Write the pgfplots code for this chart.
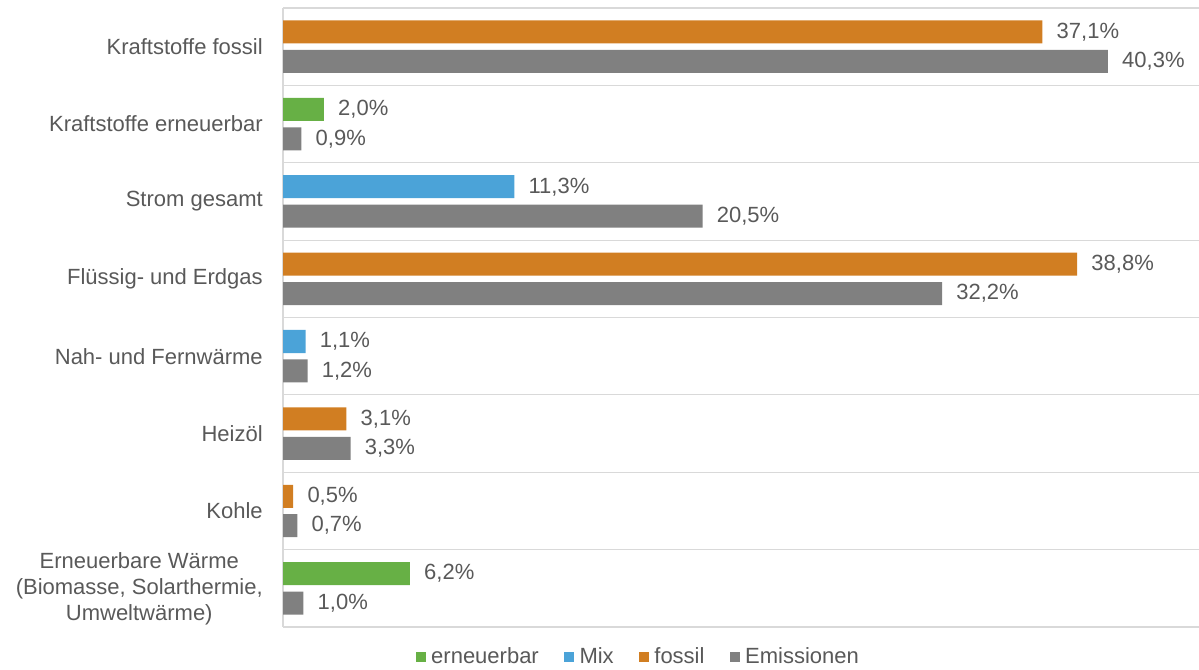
\documentclass[border=0pt]{standalone}
\usepackage{pgfplots}
\pgfplotsset{compat=1.18}
\usepackage{fontspec}
\setmainfont{Liberation Sans}
\definecolor{cgreen}{HTML}{67B045}
\definecolor{cblue}{HTML}{4BA3D8}
\definecolor{corange}{HTML}{D17E22}
\definecolor{cgray}{HTML}{808080}
\definecolor{ctext}{HTML}{595959}
\definecolor{cgrid}{HTML}{D9D9D9}
\newcommand{\lab}{\fontsize{16.5}{19.5}\selectfont}
\begin{document}
\begin{tikzpicture}
\useasboundingbox (0pt,0pt) rectangle (899.25pt,501.75pt);
\begin{axis}[
    at={(212.25pt,31.5pt)}, anchor=south west,
    scale only axis,
    width=687pt, height=464.25pt,
    xbar, bar width=17.25pt, bar shift=0pt,
    xmin=0, xmax=44.75,
    ymin=-0.5, ymax=7.5, y dir=reverse,
    axis x line=none,
    axis y line*=left,
    axis line style={draw=cgrid, line width=0.9pt},
    ytick={0,...,7},
    yticklabels={Kraftstoffe fossil, Kraftstoffe erneuerbar, Strom gesamt,
        Flüssig- und Erdgas, Nah- und Fernwärme, Heizöl, Kohle,
        {Erneuerbare Wärme\\(Biomasse, Solarthermie,\\Umweltwärme)}},
    yticklabel style={font=\lab, text=ctext, align=center, anchor=east, inner sep=0pt, xshift=-15pt},
    minor ytick={-0.5,0.5,...,7.5},
    yminorgrids, minor grid style={draw=cgrid, line width=0.9pt},
    major tick length=0pt, minor tick length=0pt,
    nodes near coords={\pgfmathprintnumber[fixed,fixed zerofill,precision=1,use comma,assume math mode=true]{\pgfplotspointmeta}\%},
    every node near coord/.append style={font=\lab, text=ctext, anchor=west, inner sep=0pt, xshift=10.5pt},
    legend columns=4,
    legend style={draw=none, font=\lab, text=ctext, at={(0.3898,-0.048)}, anchor=center,
        /tikz/every even column/.append style={column sep=15pt},
        /tikz/every odd column/.append style={column sep=0pt},
        nodes={inner sep=2pt, inner xsep=4pt}},
]
\addplot[draw=none, fill=cgreen, legend image code/.code={\fill[cgreen] (0pt,-3.75pt) rectangle (7.5pt,3.75pt);}]
    coordinates {(2.0,0.81) (6.2,6.81)};
\addlegendentry{erneuerbar}
\addplot[draw=none, fill=cblue, legend image code/.code={\fill[cblue] (0pt,-3.75pt) rectangle (7.5pt,3.75pt);}]
    coordinates {(11.3,1.81) (1.1,3.81)};
\addlegendentry{Mix}
\addplot[draw=none, fill=corange, legend image code/.code={\fill[corange] (0pt,-3.75pt) rectangle (7.5pt,3.75pt);}]
    coordinates {(37.1,-0.19) (38.8,2.81) (3.1,4.81) (0.5,5.81)};
\addlegendentry{fossil}
\addplot[draw=none, fill=cgray, legend image code/.code={\fill[cgray] (0pt,-3.75pt) rectangle (7.5pt,3.75pt);}]
    coordinates {(40.3,0.19) (0.9,1.19) (20.5,2.19) (32.2,3.19) (1.2,4.19) (3.3,5.19) (0.7,6.19) (1.0,7.19)};
\addlegendentry{Emissionen}
\end{axis}
\end{tikzpicture}
\end{document}
